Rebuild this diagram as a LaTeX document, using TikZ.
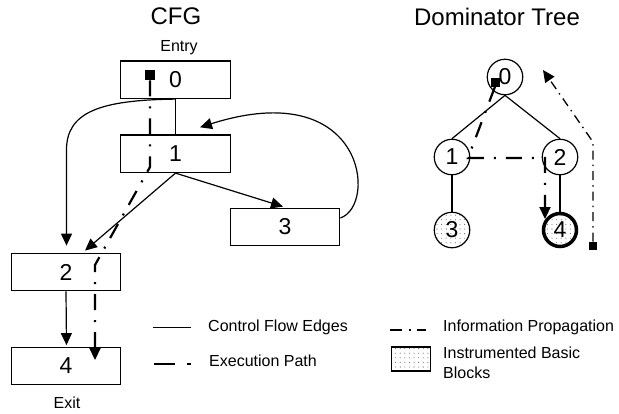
\documentclass[tikz,border=0pt]{standalone}
\usepackage{fontspec}
\setmainfont{Liberation Sans}
\usetikzlibrary{arrows.meta,calc,patterns}
\pgfdeclarepatternformonly{mydots}{\pgfqpoint{-1pt}{-1pt}}{\pgfqpoint{2pt}{2pt}}{\pgfqpoint{4.6pt}{4.6pt}}{\pgfpathcircle{\pgfqpoint{0pt}{0pt}}{0.55pt}\pgfusepath{fill}}
\tikzset{
  blk/.style={draw,line width=1.3pt,minimum width=109.5pt,minimum height=37.5pt,inner sep=0pt,font=\fontsize{23}{25}\selectfont},
  tnode/.style={draw,circle,line width=1.2pt,minimum size=35.5pt,inner sep=0pt,font=\fontsize{23}{25}\selectfont},
  instr/.style={pattern=mydots,pattern color=black!60},
  cf/.style={line width=1.2pt},
  tip/.style={-{Triangle[length=12pt,width=11pt]}},
  exec/.style={line width=2.2pt,dash pattern=on 16pt off 10pt on 2pt off 10pt},
  info/.style={line width=1.3pt,dash pattern=on 9pt off 5pt on 1.5pt off 5pt},
  title/.style={font=\fontsize{24}{26}\selectfont},
  lbl/.style={font=\fontsize{16}{20}\selectfont,inner sep=0pt},
  sq/.style={fill=black,inner sep=0pt,minimum width=#1,minimum height=#1}
}
\begin{document}
\begin{tikzpicture}[x=1pt,y=-1pt]
\useasboundingbox (0,0) rectangle (619,413);
% titles
\node[title] (tcfg) at (176,16) {CFG};
\node[title] (tdom) at (497,17) {Dominator Tree};
\node[lbl] (entry) at (179,48) {Entry};
\node[lbl] (exit) at (67,403) {Exit};
% CFG blocks
\node[blk] (b0) at (175.5,79.7) {0};
\node[blk] (b1) at (175.5,153.7) {1};
\node[blk] (b3) at (285,227) {3};
\node[blk] (b2) at (66,272) {2};
\node[blk] (b4) at (66,366) {4};
% CFG edges
\draw[cf] (b0.south) -- (b1.north);
\draw[cf,tip] (b0.south) .. controls (100,100) and (66.5,112) .. (66.5,150) -- ($(b2.north)+(0.5,-7)$);
\draw[cf,tip] (b1.south) -- ($(b2.north)+(19,-2)$);
\draw[cf,tip] (b1.south) -- ($(b3.north)+(-2,-1)$);
\draw[cf,tip] ($(b3.east)+(0,-9)$) .. controls (378,205) and (365,75) .. ($(b1.north)+(24.5,-7)$);
\draw[cf,tip] (b2.south) -- ($(b4.north)+(0.5,-1.5)$);
% execution path in CFG
\node[sq=10.5pt] (es) at (150,75) {};
\coordinate (e1) at (150,167);
\coordinate (e2) at (95,265);
\coordinate (e3) at (95,360);
\draw[exec,tip] (es.south) -- (e1) -- (e2) -- (e3);
% Dominator tree
\node[tnode] (t0) at (505,77) {0};
\node[tnode] (t1) at (452,157) {1};
\node[tnode] (t2) at (560,157) {2};
\node[tnode,instr] (t3) at (452,230) {3};
\node[tnode,instr,line width=3.5pt,minimum size=33pt] (t4) at (560,230) {4};
\draw[cf] (t0.south) -- (t1.north);
\draw[cf] (t0.south) -- (t2.north);
\draw[cf] (t1.south) -- (t3.north);
\draw[cf] (t2.south) -- (t4.north);
% execution path in tree
\node[sq=9pt] (ts) at (495,82) {};
\coordinate (f1) at (468,158);
\coordinate (f2) at (545,158);
\coordinate (f3) at (545,219);
\draw[exec,tip] (ts.south) -- (f1) -- (f2) -- (f3);
% information propagation
\node[sq=8.5pt] (is) at (593,246) {};
\coordinate (g1) at (593,142);
\coordinate (g2) at (543,70);
\draw[info,tip] (is.north) -- (g1) -- (g2);
% legend
\coordinate (l1a) at (153,327.7);
\coordinate (l1b) at (191,327.7);
\draw[cf] (l1a) -- (l1b);
\node[lbl,anchor=west] (lt1) at (208,327) {Control Flow Edges};
\coordinate (l2a) at (154,364);
\coordinate (l2b) at (191,364);
\draw[line width=2.6pt,dash pattern=on 21pt off 12pt on 4pt off 10pt] (l2a) -- (l2b);
\node[lbl,anchor=west] (lt2) at (209,361) {Execution Path};
\coordinate (l3a) at (390,330);
\coordinate (l3b) at (426,330);
\draw[line width=1.6pt,dash pattern=on 11.5pt off 7pt on 2.5pt off 6pt] (l3a) -- (l3b);
\node[lbl,anchor=west] (lt3) at (443,327) {Information Propagation};
\node[draw,line width=1.5pt,instr,minimum width=39pt,minimum height=24pt,inner sep=0pt] (lbox) at (411,359.2) {};
\node[lbl,anchor=west,align=left] (lt4) at (443,363) {Instrumented Basic\\Blocks};
\end{tikzpicture}
\end{document}
